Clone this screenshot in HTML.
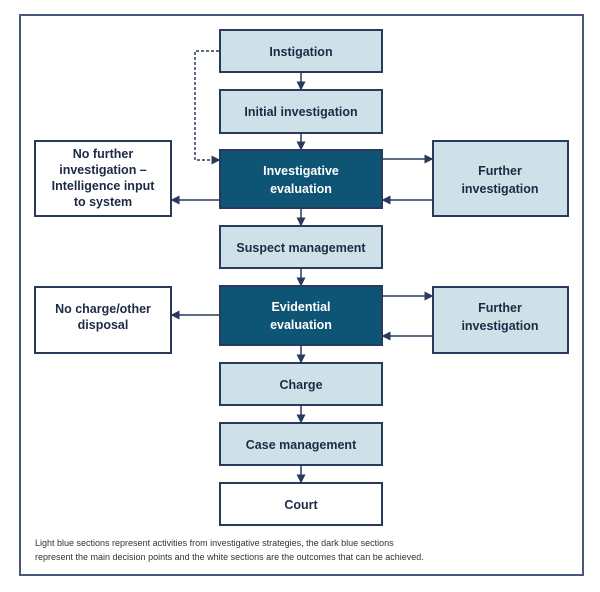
<!DOCTYPE html>
<html><head><meta charset="utf-8"><style>
body{margin:0;background:#fff;width:600px;height:587px;overflow:hidden;font-family:"Liberation Sans",sans-serif}
</style></head><body>
<svg width="600" height="587" xmlns="http://www.w3.org/2000/svg" font-family="Liberation Sans, sans-serif" font-weight="bold" font-size="12.5" text-anchor="middle">
<defs><marker id="a" markerWidth="6" markerHeight="6" refX="5" refY="3" orient="auto"><path d="M0,0L6,3L0,6z" fill="#2b3a5c"/></marker></defs>
<rect x="20" y="15" width="563" height="560" fill="#fff" stroke="#4a5580" stroke-width="2"/>
<g stroke="#2b3a5c" stroke-width="2">
<rect x="220" y="30" width="162" height="42" fill="#cfe1e8"/>
<rect x="220" y="90" width="162" height="43" fill="#cfe1e8"/>
<rect x="220" y="150" width="162" height="58" fill="#0e5474"/>
<rect x="220" y="226" width="162" height="42" fill="#cfe1e8"/>
<rect x="220" y="286" width="162" height="59" fill="#0e5474"/>
<rect x="220" y="363" width="162" height="42" fill="#cfe1e8"/>
<rect x="220" y="423" width="162" height="42" fill="#cfe1e8"/>
<rect x="220" y="483" width="162" height="42" fill="#fff"/>
<rect x="35" y="141" width="136" height="75" fill="#fff"/>
<rect x="433" y="141" width="135" height="75" fill="#cfe1e8"/>
<rect x="35" y="287" width="136" height="66" fill="#fff"/>
<rect x="433" y="287" width="135" height="66" fill="#cfe1e8"/>
</g>
<g stroke="#2b3a5c" stroke-width="1.5" fill="none" marker-end="url(#a)">
<line x1="301" y1="72" x2="301" y2="89"/>
<line x1="301" y1="133" x2="301" y2="149"/>
<line x1="301" y1="208" x2="301" y2="225"/>
<line x1="301" y1="268" x2="301" y2="285"/>
<line x1="301" y1="345" x2="301" y2="362"/>
<line x1="301" y1="405" x2="301" y2="422"/>
<line x1="301" y1="465" x2="301" y2="482"/>
<line x1="382" y1="159" x2="432" y2="159"/>
<line x1="433" y1="200" x2="383" y2="200"/>
<line x1="220" y1="200" x2="172" y2="200"/>
<line x1="382" y1="296" x2="432" y2="296"/>
<line x1="433" y1="336" x2="383" y2="336"/>
<line x1="220" y1="315" x2="172" y2="315"/>
<polyline points="219,51 195,51 195,160 219,160" stroke-dasharray="3,2"/>
</g>
<g fill="#1d2a44">
<text x="301" y="56">Instigation</text>
<text x="301" y="116">Initial investigation</text>
<text x="301" y="252">Suspect management</text>
<text x="301" y="389">Charge</text>
<text x="301" y="449">Case management</text>
<text x="301" y="509">Court</text>
<text x="103" y="158">No further</text>
<text x="103" y="174">investigation –</text>
<text x="103" y="190">Intelligence input</text>
<text x="103" y="206">to system</text>
<text x="103" y="313">No charge/other</text>
<text x="103" y="329">disposal</text>
<text x="500" y="175">Further</text>
<text x="500" y="193">investigation</text>
<text x="500" y="312">Further</text>
<text x="500" y="330">investigation</text>
</g>
<g fill="#fff">
<text x="301" y="175">Investigative</text>
<text x="301" y="193">evaluation</text>
<text x="301" y="311">Evidential</text>
<text x="301" y="329">evaluation</text>
</g>
<g font-weight="normal" font-size="9" fill="#333" text-anchor="start">
<text x="35" y="546">Light blue sections represent activities from investigative strategies, the dark blue sections</text>
<text x="35" y="560">represent the main decision points and the white sections are the outcomes that can be achieved.</text>
</g>
</svg>
</body></html>
